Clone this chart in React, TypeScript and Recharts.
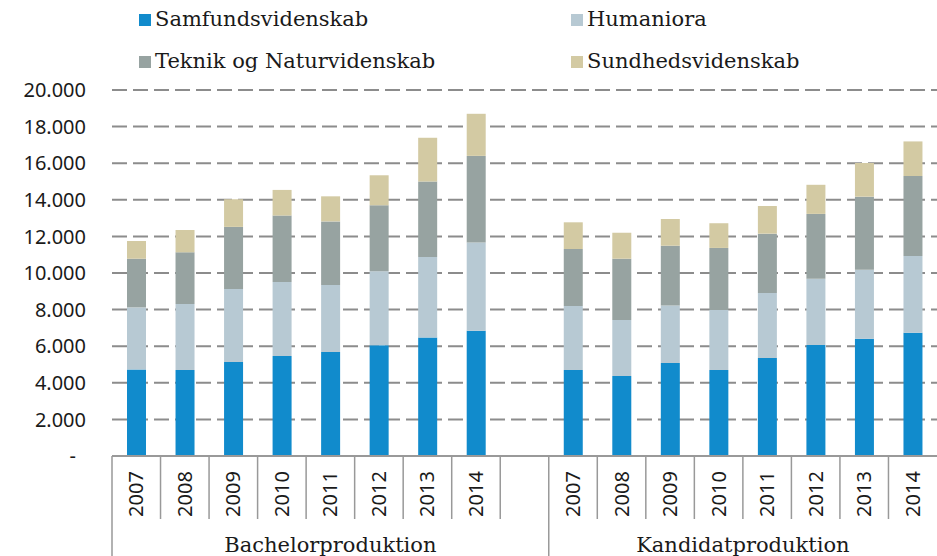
import { BarChart, Bar, XAxis, YAxis, CartesianGrid } from "recharts";

// Stablet søjlediagram: bachelor- og kandidatproduktion fordelt på hovedområder.

const YEARS = ["2007", "2008", "2009", "2010", "2011", "2012", "2013", "2014"];
const GROUPS = ["Bachelorproduktion", "Kandidatproduktion"];

const SAMFUND_BA = [4720, 4700, 5140, 5470, 5680, 6050, 6470, 6850];
const HUMAN_BA = [3400, 3610, 3990, 4040, 3660, 4040, 4410, 4810];
const TEKNIK_BA = [2660, 2820, 3390, 3630, 3480, 3610, 4120, 4740];
const SUNDHED_BA = [970, 1220, 1510, 1400, 1370, 1640, 2390, 2300];

const SAMFUND_KA = [4700, 4370, 5080, 4700, 5360, 6070, 6410, 6740];
const HUMAN_KA = [3500, 3060, 3150, 3280, 3550, 3610, 3770, 4190];
const TEKNIK_KA = [3110, 3350, 3260, 3390, 3240, 3550, 3990, 4370];
const SUNDHED_KA = [1460, 1420, 1460, 1350, 1510, 1590, 1840, 1890];

const Y_TICKS = [0, 2000, 4000, 6000, 8000, 10000, 12000, 14000, 16000, 18000, 20000];

const SERIES = [
  { key: "sam", name: "Samfundsvidenskab", color: "#118bcc" },
  { key: "hum", name: "Humaniora", color: "#b7c9d3" },
  { key: "tek", name: "Teknik og Naturvidenskab", color: "#97a3a1" },
  { key: "sund", name: "Sundhedsvidenskab", color: "#d3caa3" },
];

const rows = [
  ...YEARS.map((y, i) => ({
    id: "B" + y, year: y,
    sam: SAMFUND_BA[i], hum: HUMAN_BA[i], tek: TEKNIK_BA[i], sund: SUNDHED_BA[i],
  })),
  { id: "gap", year: "" },
  ...YEARS.map((y, i) => ({
    id: "K" + y, year: y,
    sam: SAMFUND_KA[i], hum: HUMAN_KA[i], tek: TEKNIK_KA[i], sund: SUNDHED_KA[i],
  })),
];

const W = 937;
const H = 556;
const LEFT = 112;
const BAND = (W - LEFT) / rows.length;
const AXIS = "#999999";
const SANS = "'Noto Sans', sans-serif";
const SERIF = "'DejaVu Serif', serif";

const fmt = (v: number) => (v === 0 ? "-" : v.toLocaleString("de-DE"));

function YTick({ x, y, payload }: any) {
  const v = payload.value;
  return (
    <text x={v === 0 ? x - 10 : x} y={y} dy="0.36em" textAnchor="end"
      fontFamily={SANS} fontSize={20} fill="#1a1a1a">
      {fmt(v)}
    </text>
  );
}

function XTick({ x, y, index }: any) {
  const row = rows[index];
  const left = x - BAND / 2;
  const cy = y + 38;
  return (
    <g>
      <line x1={left} x2={left} y1={y} y2={index === 0 || index === 9 ? H : y + 63}
        stroke={AXIS} strokeWidth={1.5} />
      {row.year && (
        <text x={x} y={cy} dy={7} transform={`rotate(-90 ${x} ${cy})`} textAnchor="middle"
          fontFamily={SANS} fontSize={20} fill="#1a1a1a">
          {row.year}
        </text>
      )}
      {index === 4 && (
        <text x={x} y={y + 96} textAnchor="middle" fontFamily={SERIF} fontSize={21} fill="#1a1a1a">
          {GROUPS[0]}
        </text>
      )}
      {index === 13 && (
        <text x={left} y={y + 96} textAnchor="middle" fontFamily={SERIF} fontSize={21} fill="#1a1a1a">
          {GROUPS[1]}
        </text>
      )}
    </g>
  );
}

const LEGEND_POS = [
  { x: 139, y: 26 },
  { x: 571, y: 26 },
  { x: 139, y: 68 },
  { x: 571, y: 68 },
];

export default function App() {
  return (
    <div style={{ position: "absolute", left: 0, top: 0, width: W, height: H, background: "#fff" }}>
      <BarChart width={W} height={H} data={rows} margin={{ top: 90, right: 0, bottom: 0, left: 0 }}>
        <CartesianGrid vertical={false} stroke="#8c8c8c" strokeWidth={2} strokeDasharray="15 6" />
        <XAxis dataKey="id" height={100} interval={0} tickLine={false} tickSize={0} tickMargin={0}
          axisLine={{ stroke: AXIS, strokeWidth: 2 }} tick={<XTick />} />
        <YAxis width={LEFT} domain={[0, 20000]} ticks={Y_TICKS} interval={0} axisLine={false}
          tickLine={false} tickSize={0} tickMargin={26} tick={<YTick />} />
        {SERIES.map((s) => (
          <Bar key={s.key} dataKey={s.key} name={s.name} stackId="a" fill={s.color}
            barSize={19} isAnimationActive={false} />
        ))}
      </BarChart>
      <svg width={W} height={90} style={{ position: "absolute", left: 0, top: 0 }}>
        {SERIES.map((s, i) => (
          <g key={s.key}>
            <rect x={LEGEND_POS[i].x} y={LEGEND_POS[i].y - 12} width={12} height={12} fill={s.color} />
            <text x={LEGEND_POS[i].x + 16} y={LEGEND_POS[i].y} fontFamily={SERIF} fontSize={21} fill="#1a1a1a">
              {s.name}
            </text>
          </g>
        ))}
      </svg>
    </div>
  );
}
